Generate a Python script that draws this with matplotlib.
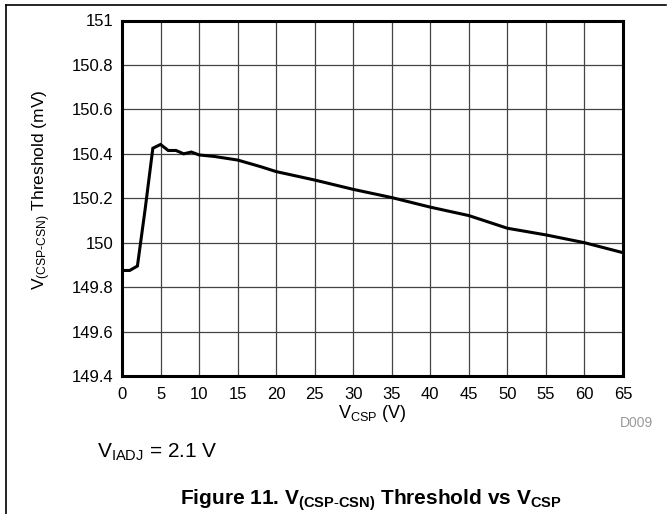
import matplotlib
matplotlib.use('Agg')
import matplotlib.pyplot as plt
from matplotlib.lines import Line2D

plt.rcParams['font.family'] = ['Liberation Sans', 'DejaVu Sans']
plt.rcParams['mathtext.fontset'] = 'custom'
plt.rcParams['mathtext.rm'] = 'Liberation Sans'
plt.rcParams['mathtext.it'] = 'Liberation Sans'
plt.rcParams['mathtext.bf'] = 'Liberation Sans:bold'

# V_CSP (V) and threshold (mV)
v_csp = [0, 1, 2, 3, 4, 5, 6, 7, 8, 9, 10, 12, 15, 18, 20, 25, 30, 35, 40, 45, 50, 55, 60, 65]
threshold = [149.875, 149.875, 149.895, 150.15, 150.425, 150.442, 150.415, 150.415, 150.4,
             150.408, 150.395, 150.388, 150.372, 150.342, 150.32, 150.282, 150.24, 150.203,
             150.16, 150.122, 150.065, 150.035, 150.0, 149.955]

x_ticks = list(range(0, 70, 5))
y_ticks = [149.4, 149.6, 149.8, 150, 150.2, 150.4, 150.6, 150.8, 151]
y_tick_labels = ['149.4', '149.6', '149.8', '150', '150.2', '150.4', '150.6', '150.8', '151']

W, H = 669, 514
fig = plt.figure(figsize=(W / 100, H / 100), dpi=100)
ax = fig.add_axes([122 / W, 1 - 376 / H, (623 - 122) / W, (376 - 20.5) / H])

ax.plot(v_csp, threshold, color='black', linewidth=2.2, solid_joinstyle='miter', zorder=3)

ax.set_xlim(0, 65)
ax.set_ylim(149.4, 151)
ax.set_xticks(x_ticks)
ax.set_yticks(y_ticks)
ax.set_yticklabels(y_tick_labels)
ax.tick_params(length=0, labelsize=12, colors='black')
ax.tick_params(axis='x', pad=8)
ax.tick_params(axis='y', pad=6)
ax.grid(True, color='#444444', linewidth=0.9)
ax.set_axisbelow(True)
for s in ax.spines.values():
    s.set_linewidth(2.2)
    s.set_color('black')

ax.set_xlabel(r'V$_{\mathrm{CSP}}$ (V)', fontsize=13, labelpad=1)
ax.set_ylabel(r'V$_{\mathrm{(CSP\text{-}CSN)}}$ Threshold (mV)', fontsize=12.5)
# label anchor is the right side of the rotated text
ax.yaxis.set_label_coords(-(122 - 53) / (623 - 122), (376 - 190) / (376 - 20.5))

fig.text(653 / W, 1 - 423 / H, 'D009', fontsize=10, color='#999999', ha='right', va='center')
fig.text(97 / W, 1 - 452 / H, r'V$_{\mathrm{IADJ}}$ = 2.1 V', fontsize=15, ha='left', va='center')
fig.text(371 / W, 1 - 500 / H,
         r'Figure 11. V$_{\mathbf{(CSP\text{-}CSN)}}$ Threshold vs V$_{\mathbf{CSP}}$',
         fontsize=15, fontweight='bold', ha='center', va='center')

# page frame lines
fig.add_artist(Line2D([6 / W, 6 / W], [0, 1 - 5 / H], color='black', linewidth=1.2))
fig.add_artist(Line2D([6 / W, 666 / W], [1 - 5 / H, 1 - 5 / H], color='black', linewidth=1.2))

fig.savefig('out.png', dpi=100)
